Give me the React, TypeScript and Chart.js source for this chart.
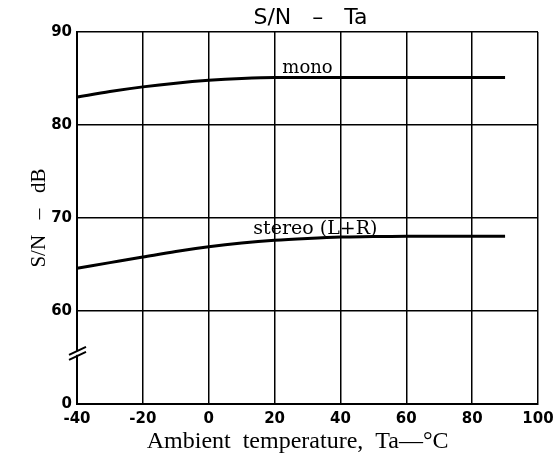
import React, { useEffect, useRef } from 'react';
import { Chart, registerables } from 'chart.js';

Chart.register(...registerables);

const temperatures = [-40, -30, -20, -10, 0, 10, 20, 30, 40, 50, 60, 70, 80, 90];
const monoSN = [83.0, 83.6, 84.1, 84.5, 84.8, 85.0, 85.1, 85.1, 85.1, 85.1, 85.1, 85.1, 85.1, 85.1];
const stereoSN = [64.6, 65.2, 65.8, 66.4, 66.9, 67.3, 67.6, 67.8, 67.95, 68.0, 68.05, 68.05, 68.05, 68.05];
const xTickValues = [-40, -20, 0, 20, 40, 60, 80, 100];
const yTickValues = [0, 60, 70, 80, 90];
const yBreakAt = 50; // axis position where the "0" tick sits below the break

const chartTitle = 'S/N   –   Ta';
const xTitle = 'Ambient  temperature,  Ta—°C';
const yTitle = 'S/N   –   dB';
const seriesLabels = ['mono', 'stereo (L+R)'];

const toAxis = (v: number) => (v === 0 ? yBreakAt : v);

const decorPlugin = {
  id: 'decor',
  afterDraw(chart: any) {
    const { ctx, chartArea, scales } = chart;
    const xs = scales.x;
    const ys = scales.y;
    ctx.save();
    ctx.fillStyle = '#000';
    ctx.textAlign = 'center';
    ctx.textBaseline = 'middle';
    // title
    ctx.font = '22px "DejaVu Sans"';
    ctx.fillText(chartTitle, (chartArea.left + chartArea.right) / 2 + 3, 18);
    // x axis title
    ctx.font = '24px "Liberation Serif"';
    ctx.fillText(xTitle, xs.getPixelForValue(27), chart.height - 15);
    // series labels
    ctx.font = '18px "DejaVu Serif"';
    ctx.fillText(seriesLabels[0], xs.getPixelForValue(30), ys.getPixelForValue(86.1));
    ctx.font = '19px "DejaVu Serif"';
    ctx.fillText(seriesLabels[1], xs.getPixelForValue(32.4), ys.getPixelForValue(68.8));
    // axis break marks
    const bx = chartArea.left;
    const by = ys.getPixelForValue(55.5);
    ctx.fillStyle = '#fff';
    ctx.fillRect(bx - 3, by - 2, 6, 4);
    ctx.strokeStyle = '#000';
    ctx.lineWidth = 2;
    ctx.beginPath();
    ctx.moveTo(bx - 8, by + 2);
    ctx.lineTo(bx + 9, by - 6);
    ctx.moveTo(bx - 8, by + 7);
    ctx.lineTo(bx + 9, by - 1);
    ctx.stroke();
    ctx.restore();
  },
};

export default function App() {
  const ref = useRef<HTMLCanvasElement>(null);
  useEffect(() => {
    document.body.style.margin = '0';
    const chart = new Chart(ref.current!, {
      type: 'line',
      data: {
        datasets: [
          {
            label: seriesLabels[0],
            data: temperatures.map((t, i) => ({ x: t, y: monoSN[i] })),
            borderColor: '#000',
            borderWidth: 3,
            pointRadius: 0,
            cubicInterpolationMode: 'monotone',
          },
          {
            label: seriesLabels[1],
            data: temperatures.map((t, i) => ({ x: t, y: stereoSN[i] })),
            borderColor: '#000',
            borderWidth: 3,
            pointRadius: 0,
            cubicInterpolationMode: 'monotone',
          },
        ],
      },
      options: {
        animation: false,
        responsive: false,
        layout: { padding: { top: 32, right: 16, bottom: 0, left: 0 } },
        plugins: { legend: { display: false }, tooltip: { enabled: false }, title: { display: false } },
        scales: {
          x: {
            type: 'linear',
            min: -40,
            max: 100,
            afterBuildTicks: (s: any) => {
              s.ticks = xTickValues.map((v) => ({ value: v }));
            },
            afterFit: (s: any) => {
              s.height = 53;
              s.paddingLeft = 0;
              s.paddingRight = 0;
            },
            grid: { color: '#000', lineWidth: 1.5, drawTicks: false },
            border: { color: '#000', width: 2 },
            ticks: {
              color: '#000',
              padding: 6,
              maxRotation: 0,
              font: { family: 'DejaVu Sans', size: 15, weight: 'bold' },
              callback: (v: any) => String(v),
            },
            title: { display: false, text: xTitle },
          },
          y: {
            type: 'linear',
            min: yBreakAt,
            max: 90,
            afterBuildTicks: (s: any) => {
              s.ticks = yTickValues.map((v) => ({ value: toAxis(v) }));
            },
            afterFit: (s: any) => {
              s.width = 77;
              s.paddingTop = 0;
              s.paddingBottom = 0;
            },
            grid: { color: '#000', lineWidth: 1.5, drawTicks: false },
            border: { color: '#000', width: 2 },
            ticks: {
              color: '#000',
              padding: 5,
              font: { family: 'DejaVu Sans', size: 15, weight: 'bold' },
              callback: (v: any) => (v === yBreakAt ? '0' : String(v)),
            },
            title: {
              display: true,
              text: yTitle,
              color: '#000',
              padding: { top: 27, bottom: 0 },
              font: { family: 'Liberation Serif', size: 21 },
            },
          },
        },
      },
      plugins: [decorPlugin],
    } as any);
    return () => chart.destroy();
  }, []);
  return (
    <div style={{ width: 554, height: 457 }}>
      <canvas ref={ref} width={554} height={457} />
    </div>
  );
}
